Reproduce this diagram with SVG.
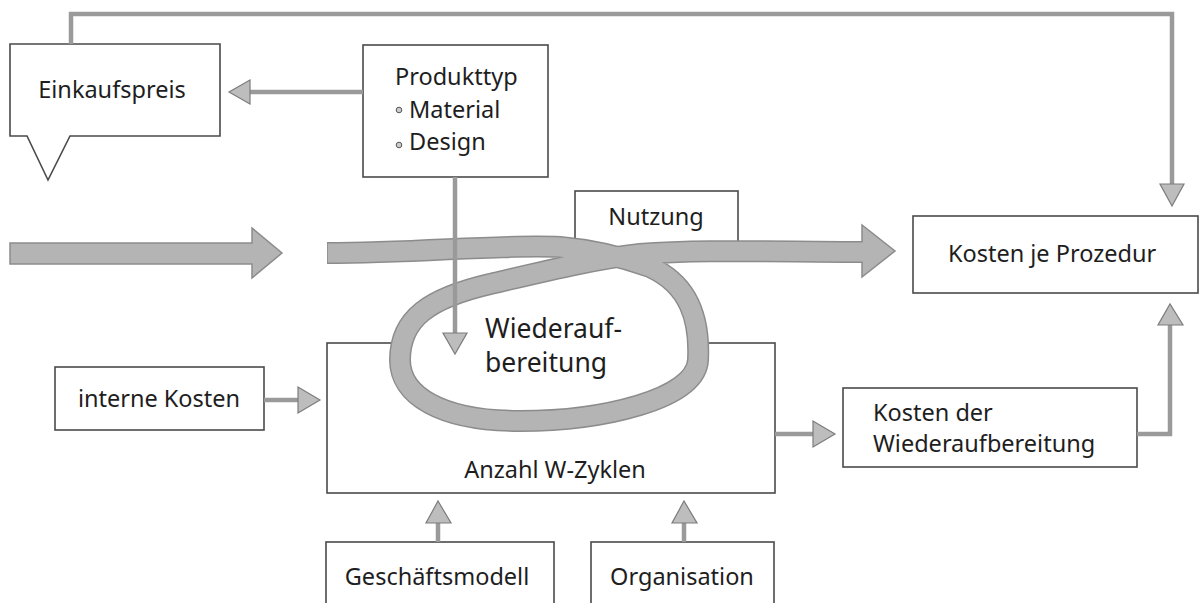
<svg xmlns="http://www.w3.org/2000/svg" width="1203" height="603" viewBox="0 0 1203 603">
<style>
.box{fill:#fff;stroke:#4a4a4a;stroke-width:1.6}
.t{font-family:"Noto Sans","Open Sans",sans-serif;font-size:23.5px;fill:#1e1e1e}
.big{font-size:26.5px}
.shaft{fill:none;stroke:#9a9a9a;stroke-width:4.5}
.head{fill:#bdbdbd;stroke:#7c7c7c;stroke-width:1.2;stroke-linejoin:miter}
.bandOut{fill:none;stroke:#8c8c8c;stroke-width:22}
.bandIn{fill:none;stroke:#b4b4b4;stroke-width:19}
.fat{fill:#b4b4b4;stroke:#8c8c8c;stroke-width:1.5}
</style>
<rect width="1203" height="603" fill="#fff"/>

<g id="main-box">
<rect class="box" x="327" y="343" width="448" height="150"/>
<text class="t" x="555" y="478" text-anchor="middle">Anzahl W-Zyklen</text>
</g>

<g id="nutzung">
<rect class="box" x="575" y="191" width="163" height="60"/>
<text class="t" x="656" y="225" text-anchor="middle">Nutzung</text>
</g>

<g id="einkaufspreis">
<path class="box" d="M10 44 H220 V136 H70 L48 180 L27 136 H10 Z"/>
<text class="t" x="112" y="98" text-anchor="middle">Einkaufspreis</text>
</g>

<g id="produkttyp">
<rect class="box" x="363" y="45" width="185" height="132"/>
<text class="t" x="395" y="85">Produkttyp</text>
<circle cx="399" cy="110" r="2.8" fill="#ccc" stroke="#555" stroke-width="1"/>
<text class="t" x="409" y="118">Material</text>
<circle cx="399" cy="145" r="2.8" fill="#ccc" stroke="#555" stroke-width="1"/>
<text class="t" x="409" y="150">Design</text>
</g>

<g id="kosten-je-prozedur">
<rect class="box" x="913" y="216" width="285" height="77"/>
<text class="t" x="1052" y="262" text-anchor="middle">Kosten je Prozedur</text>
</g>

<g id="kosten-wiederaufbereitung">
<rect class="box" x="843" y="388" width="294" height="79"/>
<text class="t" x="873" y="421">Kosten der</text>
<text class="t" x="873" y="452">Wiederaufbereitung</text>
</g>

<g id="interne-kosten">
<rect class="box" x="55" y="367" width="209" height="63"/>
<text class="t" x="159" y="407" text-anchor="middle">interne Kosten</text>
</g>

<g id="geschaeftsmodell">
<rect class="box" x="326" y="542" width="228" height="70"/>
<text class="t" x="437" y="585" text-anchor="middle">Geschäftsmodell</text>
</g>

<g id="organisation">
<rect class="box" x="591" y="542" width="183" height="70"/>
<text class="t" x="682" y="585" text-anchor="middle">Organisation</text>
</g>

<g id="connectors">
<polygon class="fat" points="10,243 252,243 252,228 282,253 252,278 252,264 10,264"/>
<path d="M615 257 L650 267 C690 285 700 320 698 360 C696 400 600 421 520 421 C440 421 400 395 400 360 C400 318 430 298 490 284 Z" fill="#fff"/>
<path class="bandOut" d="M327 253 C420 253 500 244 560 247 C595 250 625 258 650 267 C690 285 700 320 698 360 C696 400 600 421 520 421 C440 421 400 395 400 360 C400 318 430 298 490 284 C550 270 600 258 640 254 C700 249 780 252 864 252"/>
<polygon class="fat" points="862,242 862,225 895,251 862,277 862,262"/>
<path class="bandIn" d="M327.8 253 C420 253 500 244 560 247 C595 250 625 258 650 267 C690 285 700 320 698 360 C696 400 600 421 520 421 C440 421 400 395 400 360 C400 318 430 298 490 284 C550 270 600 258 640 254 C700 249 780 252 864.5 252"/>

<polyline class="shaft" points="71,44 71,14 1172,14 1172,184"/>
<polygon class="head" points="1160,184 1184,184 1172,206"/>

<line class="shaft" x1="363" y1="92" x2="250" y2="92"/>
<polygon class="head" points="250,80 250,104 229,92"/>

<line class="shaft" x1="455" y1="177" x2="455" y2="333"/>
<polygon class="head" points="443,333 467,333 455,354"/>

<line class="shaft" x1="264" y1="400" x2="298" y2="400"/>
<polygon class="head" points="298,387 298,413 320,400"/>

<line class="shaft" x1="775" y1="434" x2="813" y2="434"/>
<polygon class="head" points="813,421 813,447 835,434"/>

<polyline class="shaft" points="1137,434 1170,434 1170,325"/>
<polygon class="head" points="1158,325 1183,325 1170,304"/>

<line class="shaft" x1="438" y1="542" x2="438" y2="523"/>
<polygon class="head" points="426,523 451,523 438,501"/>

<line class="shaft" x1="684" y1="542" x2="684" y2="523"/>
<polygon class="head" points="672,523 697,523 684,501"/>
</g>

<g id="wiederaufbereitung">
<text class="t big" x="485" y="338">Wiederauf-</text>
<text class="t big" x="485" y="372">bereitung</text>
</g>
</svg>
